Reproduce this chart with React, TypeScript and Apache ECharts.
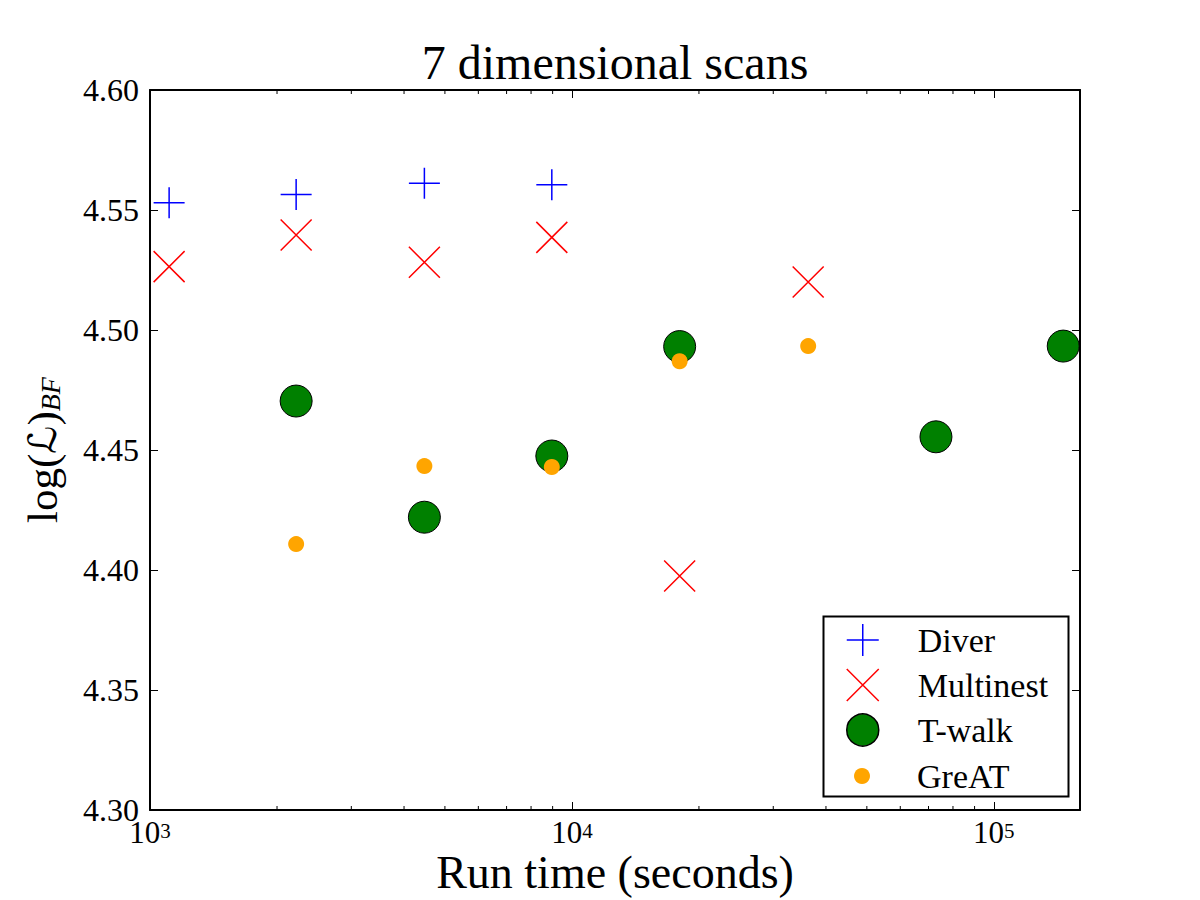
import React, { useEffect, useRef } from "react";
import * as echarts from "echarts";

const FONT = "'Liberation Serif', 'DejaVu Serif', serif";

const titleText = "7 dimensional scans";
const xName = "Run time (seconds)";

const diverX = [1110, 2220, 4470, 8960];
const diverY = [4.553, 4.5565, 4.5611, 4.5605];

const multinestX = [1110, 2220, 4470, 8960, 18000, 36300];
const multinestY = [4.5264, 4.5396, 4.5282, 4.5386, 4.3975, 4.52];

const twalkX = [2220, 4470, 8960, 18000, 72900, 146000];
const twalkY = [4.4704, 4.422, 4.4475, 4.4931, 4.4555, 4.4933];

const greatX = [2220, 4470, 8960, 18000, 36300];
const greatY = [4.4108, 4.4433, 4.4429, 4.487, 4.4933];

const xMin = 1000;
const xMax = 160000;
const yMin = 4.3;
const yMax = 4.6;
const yStep = 0.05;
const xMinorTicks = [2000, 3000, 4000, 5000, 6000, 7000, 8000, 9000, 20000, 30000, 40000, 50000, 60000, 70000, 80000, 90000];

const pair = (xs: number[], ys: number[]) => xs.map((x, i) => [x, ys[i]]);

const PLUS = "path://M0,16 L32,16 M16,0 L16,32";
const CROSS = "path://M0,0 L32,32 M32,0 L0,32";

export default function App() {
  const ref = useRef<HTMLDivElement>(null);
  useEffect(() => {
    if (!ref.current) return;
    const chart = echarts.init(ref.current, null, { renderer: "svg" });
    const logLabel = (v: number) => {
      const e = Math.round(Math.log10(v));
      if (Math.abs(Math.pow(10, e) - v) / v > 1e-6) return "";
      return "{b|10}{s|" + e + "}";
    };
    const xCommon = {
      type: "log" as const,
      logBase: 10,
      min: xMin,
      max: xMax,
      axisLine: { show: true, onZero: false, lineStyle: { color: "#000", width: 2 } },
      axisTick: { show: true, inside: true, length: 8, lineStyle: { color: "#000", width: 1 } },
      splitLine: { show: false },
    };
    const yCommon = {
      type: "value" as const,
      min: yMin,
      max: yMax,
      interval: yStep,
      axisLine: { show: true, onZero: false, lineStyle: { color: "#000", width: 2 } },
      axisTick: { show: true, inside: true, length: 8, lineStyle: { color: "#000", width: 1 } },
      splitLine: { show: false },
    };
    chart.setOption({
      animation: false,
      backgroundColor: "#fff",
      title: {
        text: titleText,
        left: 615,
        top: 38,
        textAlign: "center",
        padding: 0,
        textStyle: { fontFamily: FONT, fontSize: 48, fontWeight: "normal", color: "#000" },
      },
      grid: { left: 150, width: 930, top: 90, height: 720, containLabel: false, outerBoundsMode: "none" },
      xAxis: [
        {
          ...xCommon,
          position: "bottom",
          name: xName,
          nameLocation: "middle",
          nameGap: 41,
          nameMoveOverlap: false,
          nameTextStyle: { fontFamily: FONT, fontSize: 46, color: "#000", lineHeight: 42 },
          axisLabel: {
            show: true,
            margin: 10,
            showMaxLabel: false,
            formatter: logLabel,
            rich: {
              b: { fontFamily: FONT, fontSize: 31, lineHeight: 24, color: "#000" },
              s: { fontFamily: FONT, fontSize: 21, lineHeight: 20, color: "#000", verticalAlign: "top" },
            },
          },
        },
        {
          ...xCommon,
          position: "top",
          axisLabel: { show: false },
        },
      ],
      yAxis: [
        {
          ...yCommon,
          position: "left",
          name: "{n|log(}{L|ℒ}{n|)}{sub|BF}",
          nameLocation: "middle",
          nameRotate: 90,
          nameGap: 86,
          nameMoveOverlap: false,
          nameTextStyle: {
            rich: {
              n: { fontFamily: FONT, fontSize: 43, color: "#000" },
              L: { fontFamily: "'DejaVu Sans', serif", fontSize: 39, color: "#000" },
              sub: { fontFamily: FONT, fontStyle: "italic", fontSize: 28, color: "#000", verticalAlign: "bottom" },
            },
          },
          axisLabel: {
            show: true,
            margin: 11,
            fontFamily: FONT,
            fontSize: 32,
            lineHeight: 20,
            color: "#000",
            formatter: (v: number) => v.toFixed(2),
          },
        },
        {
          ...yCommon,
          position: "right",
          axisLabel: { show: false },
        },
      ],
      legend: [
        {
          data: ["Diver", "Multinest", "T-walk"],
          orient: "vertical",
          left: 846,
          top: 623,
          padding: 0,
          itemWidth: 32,
          itemHeight: 32,
          itemGap: 11,
          symbolKeepAspect: true,
          selectedMode: false,
          itemStyle: { borderWidth: 1.5 },
          textStyle: { fontFamily: FONT, fontSize: 34, color: "#000", padding: [0, 0, 0, 34] },
        },
        {
          data: ["GreAT"],
          orient: "vertical",
          left: 854,
          top: 759,
          padding: 0,
          itemWidth: 16,
          itemHeight: 16,
          selectedMode: false,
          textStyle: { fontFamily: FONT, fontSize: 34, color: "#000", padding: [0, 0, 0, 42] },
        },
      ],
      graphic: [
        {
          type: "rect",
          left: 821,
          top: 614,
          shape: { x: 0, y: 0, width: 245, height: 180 },
          style: { fill: "none", stroke: "#000", lineWidth: 2 },
          z: 10,
        },
      ],
      series: [
        {
          name: "Diver",
          type: "scatter",
          data: pair(diverX, diverY),
          symbol: PLUS,
          symbolSize: 31,
          symbolKeepAspect: true,
          itemStyle: { color: "rgba(0,0,0,0)", borderColor: "#0000ff", borderWidth: 1.5, opacity: 1 },
          emphasis: { disabled: true },
        },
        {
          name: "Multinest",
          type: "scatter",
          data: pair(multinestX, multinestY),
          symbol: CROSS,
          symbolSize: 31,
          symbolKeepAspect: true,
          itemStyle: { color: "rgba(0,0,0,0)", borderColor: "#ff0000", borderWidth: 1.5, opacity: 1 },
          emphasis: { disabled: true },
        },
        {
          name: "T-walk",
          type: "scatter",
          data: pair(twalkX, twalkY),
          symbol: "circle",
          symbolSize: 32,
          itemStyle: { color: "#008000", borderColor: "#000", borderWidth: 1, opacity: 1 },
          emphasis: { disabled: true },
        },
        {
          name: "GreAT",
          type: "scatter",
          data: pair(greatX, greatY),
          symbol: "circle",
          symbolSize: 16,
          itemStyle: { color: "#ffa500", borderWidth: 0, opacity: 1 },
          emphasis: { disabled: true },
        },
        {
          name: "minorTicks",
          type: "custom",
          silent: true,
          clip: false,
          data: xMinorTicks.map((v) => [v, yMin]),
          renderItem: (_p: any, api: any) => {
            const v = api.value(0);
            const b = api.coord([v, yMin]);
            const t = api.coord([v, yMax]);
            return {
              type: "group",
              children: [
                { type: "line", shape: { x1: b[0], y1: b[1], x2: b[0], y2: b[1] - 4 }, style: { stroke: "#000", lineWidth: 1 } },
                { type: "line", shape: { x1: t[0], y1: t[1], x2: t[0], y2: t[1] + 4 }, style: { stroke: "#000", lineWidth: 1 } },
              ],
            };
          },
        },
      ],
    });
    return () => chart.dispose();
  }, []);
  return (
    <div
      ref={ref}
      style={{ position: "fixed", left: 0, top: 0, width: 1200, height: 900, background: "#fff" }}
    />
  );
}
